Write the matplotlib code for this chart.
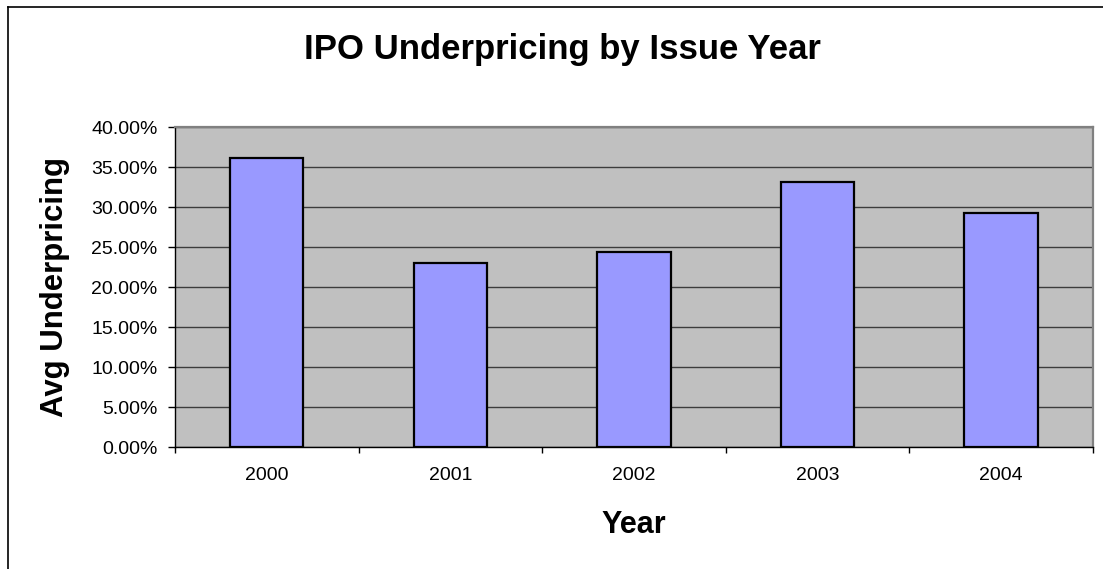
import matplotlib
matplotlib.use("Agg")
import matplotlib.pyplot as plt
from matplotlib.ticker import PercentFormatter, FixedLocator
from matplotlib.lines import Line2D

years = ["2000", "2001", "2002", "2003", "2004"]
avg_underpricing = [36.2, 23.1, 24.4, 33.2, 29.3]  # percent

plt.rcParams["font.family"] = ["Liberation Sans", "DejaVu Sans"]

W, H = 1103, 569
fig = plt.figure(figsize=(W / 100, H / 100), dpi=100)
fig.patch.set_facecolor("white")

ax = fig.add_axes([175 / W, 1 - 447.3 / H, (1092.7 - 175) / W, (447.3 - 127.3) / H])
ax.set_facecolor("#C0C0C0")

x = list(range(len(years)))
ax.bar(x, avg_underpricing, width=0.4, color="#9999FF",
       edgecolor="black", linewidth=1.6, zorder=3)

ax.set_xlim(-0.5, len(years) - 0.5)
ax.set_ylim(0, 40)
ax.yaxis.set_major_locator(FixedLocator([i * 5 for i in range(9)]))
ax.yaxis.set_major_formatter(PercentFormatter(xmax=100, decimals=2))
ax.grid(axis="y", color="#3c3c3c", linewidth=1.0, zorder=1)
ax.set_axisbelow(True)

# category boundaries carry the tick marks, centers carry the labels
ax.xaxis.set_major_locator(FixedLocator([i - 0.5 for i in range(len(years) + 1)]))
ax.xaxis.set_major_formatter(plt.NullFormatter())
ax.xaxis.set_minor_locator(FixedLocator(x))
ax.set_xticklabels(years, minor=True)
ax.tick_params(axis="x", which="major", length=4, width=1, color="black", direction="out")
ax.tick_params(axis="x", which="minor", length=0, pad=14.5, labelsize=14)
ax.tick_params(axis="y", length=5, width=1, color="black", direction="out",
               pad=7.6, labelsize=14)

for side in ("top", "right"):
    ax.spines[side].set_color("#808080")
    ax.spines[side].set_linewidth(1.6)
for side in ("left", "bottom"):
    ax.spines[side].set_color("black")
    ax.spines[side].set_linewidth(1.0)

fig.text(562 / W, 1 - 58.5 / H, "IPO Underpricing by Issue Year",
         ha="center", va="baseline", fontsize=25, fontweight="bold")
fig.text(55.5 / W, 1 - 287.3 / H, "Avg Underpricing", rotation=90,
         ha="center", va="center", fontsize=22.4, fontweight="bold")
fig.text(633.8 / W, 1 - 533 / H, "Year",
         ha="center", va="baseline", fontsize=22, fontweight="bold")

# chart frame (left and top edges)
fig.add_artist(Line2D([7.5 / W, 7.5 / W], [0, 1 - 6.7 / H], transform=fig.transFigure,
                      color="black", linewidth=1.2))
fig.add_artist(Line2D([7.5 / W, 1], [1 - 6.7 / H, 1 - 6.7 / H], transform=fig.transFigure,
                      color="black", linewidth=1.2))

fig.savefig("out.png", dpi=100)
